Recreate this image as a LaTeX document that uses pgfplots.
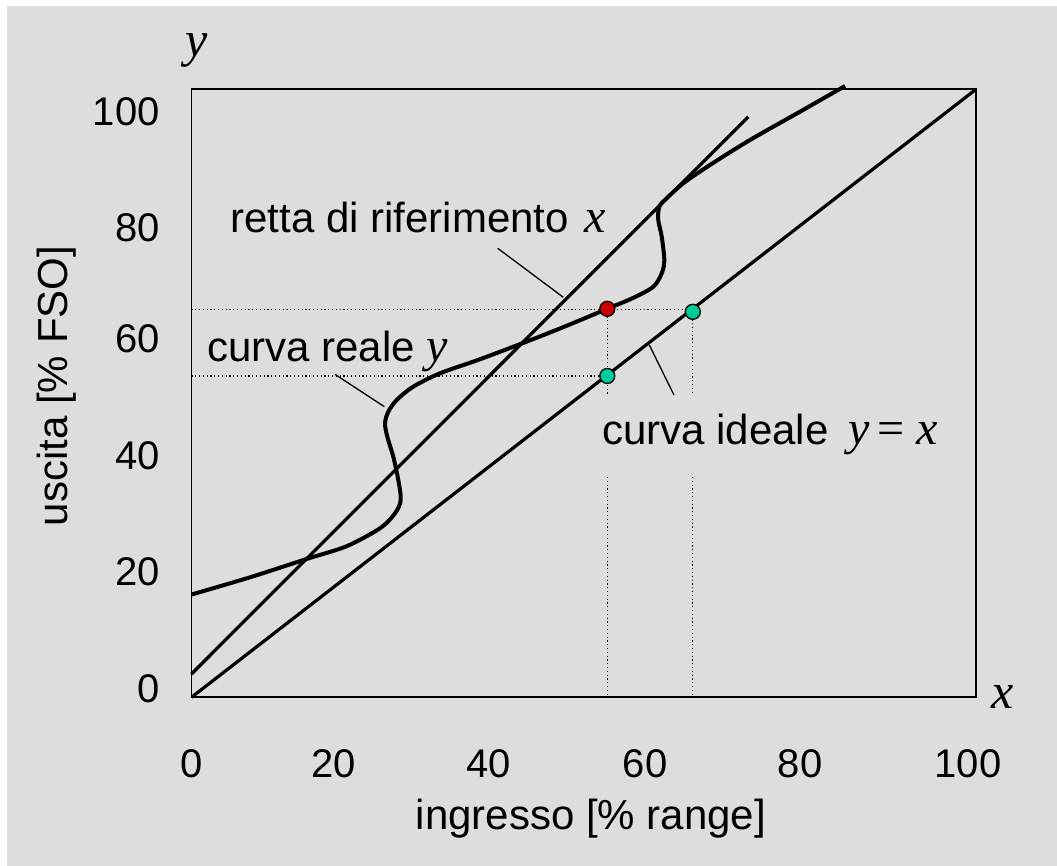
\documentclass[border=0pt]{standalone}
\usepackage{pgfplots}
\pgfplotsset{compat=1.18}
\usepackage{fontspec}
\setmainfont{Liberation Sans}
\newfontfamily\tnr{Liberation Serif}
\definecolor{bg}{RGB}{221,221,221}
\definecolor{dotred}{RGB}{204,0,0}
\definecolor{dotgreen}{RGB}{0,204,153}
\newcommand{\mi}[1]{{\tnr\itshape #1}}
\newcommand{\txt}{\fontsize{21}{25}\selectfont}
\newcommand{\mth}{\fontsize{24}{28}\selectfont}
\begin{document}
\begin{tikzpicture}
\useasboundingbox (0,0) rectangle (528.5pt,433pt);
\fill[white] (0,0) rectangle (528.5pt,433pt);
\fill[bg] (3.5pt,0) rectangle (528.5pt,430pt);
\begin{axis}[
  at={(95.75pt,84.35pt)}, anchor=south west,
  width=392.25pt, height=304pt, scale only axis,
  xmin=0, xmax=100, ymin=0, ymax=100,
  clip=false,
  axis line style={line width=0.9pt},
  major tick length=0pt,
  xtick={0,18.07,37.92,57.81,77.57,98.98},
  xticklabels={0,20,40,60,80,100},
  ytick={1.37,20.6,39.7,58.9,77.2,96.3},
  yticklabels={0,20,40,60,80,100},
  tick label style={font=\fontsize{20}{24}\selectfont, inner sep=0pt},
  xticklabel style={anchor=base, yshift=-40.35pt},
  yticklabel style={anchor=east, xshift=-15.75pt},
]
% dotted guide lines
\addplot[line width=0.6pt, dash pattern=on 0.6pt off 1.3pt] coordinates {(0,63.78) (63.9,63.78)};
\addplot[line width=0.6pt, dash pattern=on 0.6pt off 1.3pt] coordinates {(0,52.85) (53.0,52.85)};
\addplot[line width=0.6pt, dash pattern=on 0.6pt off 1.3pt] coordinates {(53.0,63.9) (53.0,49.72)};
\addplot[line width=0.6pt, dash pattern=on 0.6pt off 1.3pt] coordinates {(53.0,36.23) (53.0,0)};
\addplot[line width=0.6pt, dash pattern=on 0.6pt off 1.3pt] coordinates {(63.9,63.4) (63.9,49.72)};
\addplot[line width=0.6pt, dash pattern=on 0.6pt off 1.3pt] coordinates {(63.9,36.23) (63.9,0)};
% ideal line y = x
\addplot[line width=1.6pt] coordinates {(0,0) (100,100)};
% reference line
\addplot[line width=1.6pt] coordinates {(0,3.83) (70.98,95.49)};
% real curve
\addplot[line width=2pt, smooth, tension=0.5] coordinates {
(0,16.9) (7.5,19.75) (14.68,22.75) (19.78,24.85) (24.03,27.80) (25.94,30.26)
(26.67,32.45) (26.36,35.74) (25.72,39.57) (24.96,42.86) (24.67,45.07) (25.09,46.97)
(26.16,48.90) (28.27,51.09) (31.68,53.29) (36.78,55.6) (43.53,58.9)
(48,61.2) (53.00,63.9) (56.32,65.7) (58.87,67.53) (59.94,69.74)
(60.27,71.92) (59.94,75.76) (59.50,78.50) (59.63,80.69) (60.57,82.07) (62.69,84.54)
(66.09,87.55) (71.19,91.66) (77.57,96.32) (83.30,100.54)};
% leader lines
\addplot[line width=0.65pt] coordinates {(39.03,73.85) (47.39,65.79)};
\addplot[line width=0.65pt] coordinates {(18.29,53.12) (24.58,47.80)};
\addplot[line width=0.65pt] coordinates {(58.36,57.94) (61.50,49.72)};
% points
\addplot[only marks, mark=*, mark size=3.75pt, mark options={fill=dotred, draw=black, line width=0.65pt}] coordinates {(53.0,63.9)};
\addplot[only marks, mark=*, mark size=3.75pt, mark options={fill=dotgreen, draw=black, line width=0.65pt}] coordinates {(53.0,52.85) (63.9,63.4)};
\end{axis}
\begin{scope}[every node/.style={inner sep=0pt}]
\node[anchor=base] at (98.5pt,404.8pt) {\fontsize{25}{30}\selectfont\mi{y}};
\node[anchor=base] at (501.25pt,78.85pt) {\fontsize{25}{30}\selectfont\mi{x}};
\node[anchor=base west] at (115pt,316.5pt) {\txt retta di riferimento\hspace{2pt} \mth\mi{x}};
\node[anchor=base west] at (103.35pt,252.15pt) {\txt curva reale \mth\mi{y}};
\node[anchor=base west] at (300.85pt,210.5pt) {\txt curva ideale\hspace{4pt} \mth\mi{y}\hspace{4pt}{\tnr =}\hspace{6pt}\mi{x}};
\node[anchor=base] at (295.4pt,18pt) {\txt ingresso [\% range]};
\node[anchor=base, rotate=90] at (34pt,240pt) {\txt uscita [\% FSO]};
\end{scope}
\end{tikzpicture}
\end{document}
